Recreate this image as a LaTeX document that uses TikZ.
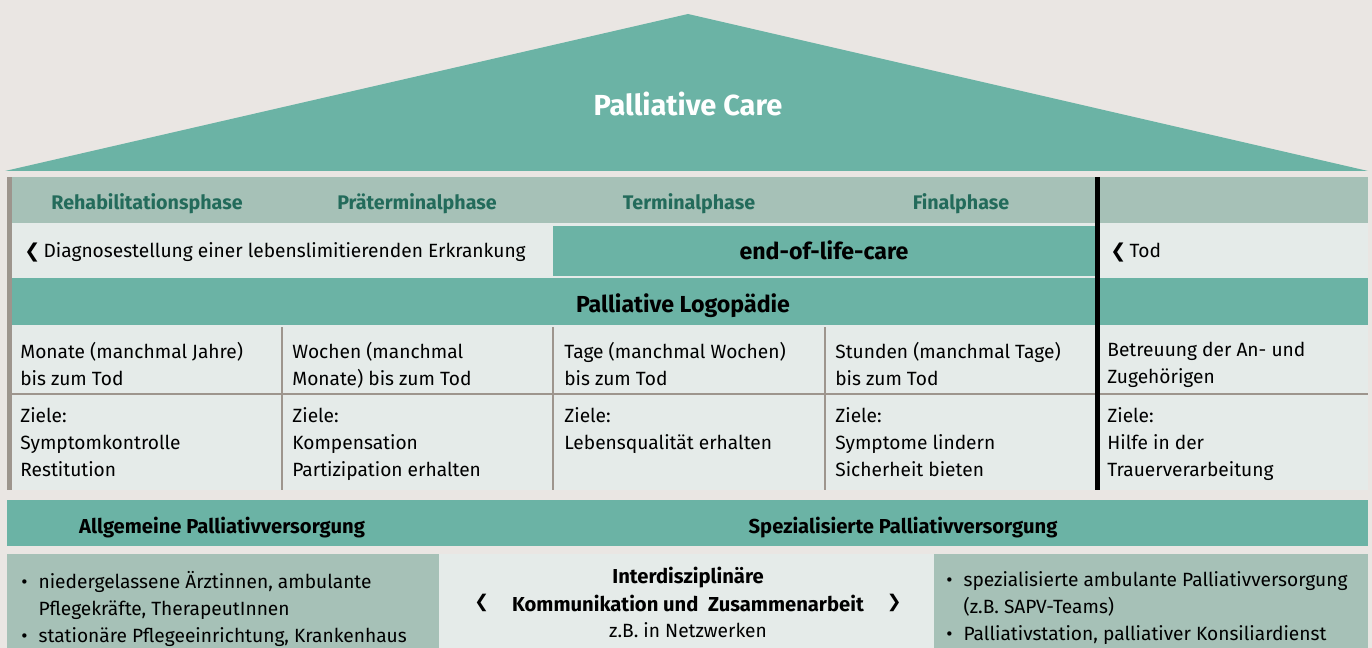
\documentclass[tikz,border=0pt]{standalone}
\usepackage{fontspec}
\setmainfont{Fira Sans}
\newfontfamily\symfont{DejaVu Sans}
\usetikzlibrary{positioning}

\definecolor{bgcol}{HTML}{EAE6E3}
\definecolor{roofcol}{HTML}{6BB3A5}
\definecolor{sage}{HTML}{A6C1B7}
\definecolor{lightcell}{HTML}{E5EBE9}
\definecolor{phasetext}{HTML}{236B5B}
\definecolor{grayline}{HTML}{9D958D}

\begin{document}
\begin{tikzpicture}[x=0.02cm, y=-0.02cm, node distance=0.45cm]
	\tikzstyle{body} = [inner sep=0pt, font=\fontsize{10.9}{15.3}\selectfont, text=black]
	\tikzstyle{cell} = [body, anchor=north west, align=left]
	\tikzstyle{line} = [body, anchor=base west]
	\tikzstyle{phase} = [inner sep=0pt, anchor=base, font=\fontsize{11.2}{13}\selectfont\bfseries, text=phasetext]
	\tikzstyle{head} = [inner sep=0pt, anchor=base, font=\fontsize{13.2}{15}\selectfont\bfseries]
	\tikzstyle{sub} = [inner sep=0pt, anchor=base, font=\fontsize{11.5}{13}\selectfont\bfseries]
	\tikzstyle{arrowmark} = [inner sep=0pt, font=\fontsize{10}{12}\selectfont\symfont\bfseries]

	\fill[bgcol] (0,0) rectangle (1372,648);
	\useasboundingbox (0,0) rectangle (1372,648);

	% roof
	\fill[roofcol] (5,171) -- (688,14) -- (1368,171) -- cycle;
	\node[inner sep=0pt, anchor=base, text=white, font=\fontsize{16.5}{19}\selectfont\bfseries] (roof) at (688,116) {Palliative Care};

	% table
	\fill[lightcell] (12,177) rectangle (1368,490);
	\fill[sage] (12,177) rectangle (1368,223);
	\fill[roofcol] (553,226) rectangle (1095,276);
	\fill[roofcol] (12,278) rectangle (1368,325);
	\fill[grayline] (7,177) rectangle (12,490);
	\fill[grayline] (12,393) rectangle (1368,395);
	\foreach \x in {282,553,825}
		\fill[grayline] (\x-1,327) rectangle (\x+1,490);
	\fill[black] (1095,177) rectangle (1100,490);

	\node[phase] (ph1) at (147,210) {Rehabilitationsphase};
	\node[phase] (ph2) at (417,210) {Präterminalphase};
	\node[phase] (ph3) at (689,210) {Terminalphase};
	\node[phase] (ph4) at (961,210) {Finalphase};

	\node[line] (diag) at (24,258) {{\symfont\bfseries ❮}\,Diagnosestellung einer lebenslimitierenden Erkrankung};
	\node[head] (eolc) at (824,260) {end-of-life-care};
	\node[line] (tod) at (1110,258) {{\symfont\bfseries ❮}\,Tod};
	\node[head] (logo) at (683,313) {Palliative Logopädie};

	\node[cell] (dur1) at (20,342) {Monate (manchmal Jahre)\\bis zum Tod};
	\node[cell] (dur2) at (292,342) {Wochen (manchmal\\Monate) bis zum Tod};
	\node[cell] (dur3) at (564,342) {Tage (manchmal Wochen)\\bis zum Tod};
	\node[cell] (dur4) at (835,342) {Stunden (manchmal Tage)\\bis zum Tod};
	\node[cell] (dur5) at (1107,342) {Betreuung der An- und\\Zugehörigen};

	\node[cell] (goal1) at (20,407) {Ziele:\\Symptomkontrolle\\Restitution};
	\node[cell] (goal2) at (292,407) {Ziele:\\Kompensation\\Partizipation erhalten};
	\node[cell] (goal3) at (564,407) {Ziele:\\Lebensqualität erhalten};
	\node[cell] (goal4) at (835,407) {Ziele:\\Symptome lindern\\Sicherheit bieten};
	\node[cell] (goal5) at (1107,407) {Ziele:\\Hilfe in der\\Trauerverarbeitung};

	% versorgung
	\fill[roofcol] (7,500) rectangle (1368,546);
	\fill[sage] (7,554) rectangle (439,648);
	\fill[lightcell] (439,554) rectangle (934,648);
	\fill[sage] (934,554) rectangle (1368,648);

	\node[sub] (allg) at (222,533) {Allgemeine Palliativversorgung};
	\node[sub] (spez) at (903,533) {Spezialisierte Palliativversorgung};

	\node[cell] (allglist) at (21,571) {\makebox[0.9em][l]{•}niedergelassene Ärztinnen, ambulante\\\hspace*{0.9em}Pflegekräfte, TherapeutInnen\\\makebox[0.9em][l]{•}stationäre Pflegeeinrichtung, Krankenhaus};
	\node[cell] (spezlist) at (946,571) {\makebox[0.9em][l]{•}spezialisierte ambulante Palliativversorgung\\\hspace*{0.9em}(z.B. SAPV-Teams)\\\makebox[0.9em][l]{•}Palliativstation, palliativer Konsiliardienst};

	\node[sub] (inter) at (688,583) {Interdisziplinäre};
	\node[sub] (komm) at (688,611) {Kommunikation und\ \ Zusammenarbeit};
	\node[body, anchor=base] (netz) at (688,637) {z.B. in Netzwerken};
	\node[arrowmark, left=of komm] (kommL) {❮};
	\node[arrowmark, right=of komm] (kommR) {❯};
\end{tikzpicture}
\end{document}
